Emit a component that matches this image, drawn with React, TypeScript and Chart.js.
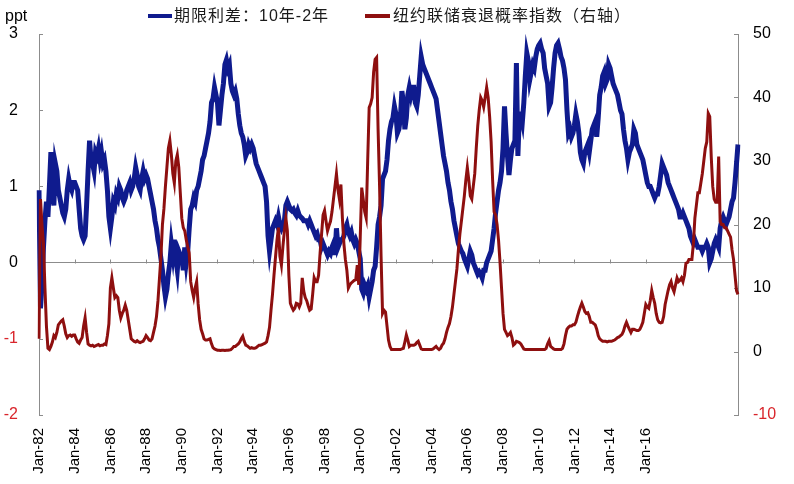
import { useEffect, useRef } from 'react';
import { Chart, registerables } from 'chart.js';

Chart.register(...registerables);

// ---------- data ----------
const START_YEAR = 1982;
const MONTH_NAMES = ['Jan', 'Feb', 'Mar', 'Apr', 'May', 'Jun', 'Jul', 'Aug', 'Sep', 'Oct', 'Nov', 'Dec'];

// 10Y-2Y term spread (ppt), monthly, one row per year 1982..2021
const SPREAD_BY_YEAR: number[][] = [
  [0.95, -0.6, -0.3, 0.2, 0.55, 0.8, 0.6, 1.0, 1.45, 0.9, 0.75, 1.3],
  [1.2, 0.95, 0.85, 0.75, 0.65, 0.6, 0.7, 0.95, 1.1, 1.0, 0.95, 1.05],
  [1.05, 1.0, 0.95, 0.7, 0.45, 0.35, 0.3, 0.35, 0.75, 1.2, 1.6, 1.35],
  [1.3, 1.2, 1.45, 1.4, 1.5, 1.35, 1.45, 1.3, 1.35, 1.2, 0.95, 0.6],
  [0.45, 0.6, 0.8, 0.75, 0.9, 0.85, 1.0, 0.95, 0.85, 0.8, 0.85, 0.95],
  [1.0, 1.05, 0.95, 1.0, 1.1, 1.25, 1.15, 1.0, 0.95, 1.1, 1.2, 1.1],
  [1.15, 1.1, 1.0, 0.9, 0.8, 0.7, 0.55, 0.45, 0.3, 0.2, 0.05, -0.1],
  [-0.3, -0.45, -0.35, -0.15, 0.0, 0.25, 0.1, 0.3, 0.05, -0.1, 0.15, 0.1],
  [0.1, -0.1, 0.2, 0.0, 0.15, 0.45, 0.7, 0.75, 0.85, 0.8, 0.95, 1.0],
  [1.1, 1.2, 1.35, 1.4, 1.5, 1.6, 1.7, 1.85, 2.1, 2.15, 2.3, 2.2],
  [2.1, 1.8, 2.0, 2.2, 2.35, 2.6, 2.66, 2.55, 2.6, 2.35, 2.25, 2.2],
  [2.25, 2.15, 1.95, 1.8, 1.7, 1.65, 1.55, 1.4, 1.45, 1.55, 1.5, 1.55],
  [1.5, 1.4, 1.3, 1.25, 1.2, 1.15, 1.1, 1.05, 1.0, 0.8, 0.35, 0.15],
  [0.3, 0.45, 0.5, 0.55, 0.5, 0.6, 0.5, 0.45, 0.5, 0.55, 0.75, 0.8],
  [0.75, 0.7, 0.68, 0.7, 0.65, 0.62, 0.68, 0.62, 0.6, 0.58, 0.55, 0.55],
  [0.55, 0.5, 0.55, 0.5, 0.45, 0.4, 0.35, 0.38, 0.3, 0.3, 0.2, 0.25],
  [0.2, 0.15, 0.1, 0.15, 0.12, 0.2, 0.25, 0.1, 0.45, 0.2, 0.25, 0.3],
  [0.3, 0.35, 0.45, 0.5, 0.4, 0.35, 0.4, 0.3, 0.25, 0.3, 0.25, 0.15],
  [0.05, -0.35, -0.4, -0.3, -0.35, -0.3, -0.45, -0.35, -0.25, -0.1, -0.05, 0.2],
  [0.5, 0.6, 0.75, 1.1, 1.15, 1.2, 1.35, 1.6, 1.75, 1.85, 1.9, 2.05],
  [1.95, 1.7, 1.75, 1.9, 2.25, 2.1, 1.75, 1.9, 2.2, 2.3, 2.2, 2.3],
  [2.3, 2.1, 2.05, 2.2, 2.45, 2.7, 2.6, 2.55, 2.5, 2.45, 2.4, 2.35],
  [2.3, 2.25, 2.2, 2.15, 2.0, 1.85, 1.7, 1.55, 1.4, 1.3, 1.2, 1.05],
  [0.95, 0.8, 0.7, 0.55, 0.45, 0.35, 0.25, 0.2, 0.15, 0.12, 0.05, 0.0],
  [-0.05, 0.05, 0.15, 0.1, 0.0, -0.05, -0.1, -0.15, -0.12, -0.15, -0.2, -0.1],
  [-0.1, 0.0, 0.05, 0.1, 0.15, 0.3, 0.45, 0.65, 0.8, 0.95, 1.05, 1.2],
  [1.5, 2.05, 1.7, 1.4, 1.15, 1.35, 1.5, 1.55, 1.6, 2.62, 1.4, 1.95],
  [1.95, 1.85, 2.1, 2.45, 2.75, 2.65, 2.4, 2.5, 2.6, 2.55, 2.7, 2.8],
  [2.85, 2.88, 2.8, 2.75, 2.55, 2.45, 2.35, 2.05, 2.1, 2.3, 2.55, 2.75],
  [2.85, 2.88, 2.8, 2.7, 2.65, 2.55, 2.4, 2.0, 1.7, 1.75, 1.65, 1.7],
  [1.8, 1.95, 1.85, 1.7, 1.45, 1.35, 1.3, 1.45, 1.5, 1.55, 1.45, 1.6],
  [1.75, 1.8, 1.85, 1.65, 1.9, 2.2, 2.3, 2.45, 2.5, 2.35, 2.4, 2.6],
  [2.55, 2.45, 2.35, 2.3, 2.25, 2.2, 2.1, 2.0, 1.95, 1.75, 1.6, 1.5],
  [1.35, 1.45, 1.5, 1.55, 1.75, 1.7, 1.55, 1.5, 1.45, 1.4, 1.35, 1.25],
  [1.15, 1.05, 1.0, 1.0, 0.95, 0.9, 0.85, 0.9, 0.9, 1.0, 1.15, 1.3],
  [1.25, 1.2, 1.15, 1.05, 1.0, 0.95, 0.9, 0.85, 0.8, 0.75, 0.7, 0.6],
  [0.6, 0.65, 0.6, 0.55, 0.5, 0.45, 0.35, 0.3, 0.25, 0.3, 0.25, 0.2],
  [0.2, 0.2, 0.15, 0.2, 0.2, 0.25, 0.2, 0.0, 0.05, 0.15, 0.25, 0.3],
  [0.25, 0.2, 0.45, 0.55, 0.6, 0.55, 0.5, 0.55, 0.6, 0.7, 0.8, 0.85],
  [1.05, 1.3, 1.55],
];

// NY Fed recession probability (%), monthly, one row per year 1982..2021
const RECESSION_PROB_BY_YEAR: number[][] = [
  [2, 24, 20, 17, 10, 4, 0.5, 0.3, 0.8, 1.5, 2.5, 2.2],
  [3.0, 4.2, 4.5, 4.8, 5.0, 4.0, 2.8, 2.2, 2.5, 2.6, 2.4, 2.6],
  [2.6, 2.0, 1.5, 1.3, 1.8, 2.2, 4.0, 5.3, 3.0, 1.2, 1.0, 0.9],
  [1.0, 0.8, 0.9, 1.0, 1.1, 0.9, 1.0, 1.0, 1.2, 1.1, 2.5, 4.4],
  [10.0, 11.6, 10.0, 8.5, 8.8, 8.5, 6.5, 5.3, 6.0, 6.5, 7.3, 6.5],
  [5.0, 3.5, 2.0, 1.8, 1.6, 1.5, 1.7, 1.5, 1.4, 1.5, 1.6, 2.0],
  [2.5, 2.2, 1.8, 1.7, 2.0, 3.0, 4.0, 5.5, 8.0, 11.5, 15.0, 20.0],
  [22.5, 26, 29, 32, 33.2, 31, 28, 26.5, 30, 31, 29, 25],
  [21, 19.5, 19, 17.6, 16.5, 15.5, 11, 9.6, 8.5, 10, 11, 7.5],
  [5.0, 3.5, 2.8, 2.0, 1.8, 1.8, 1.9, 2.0, 1.2, 0.6, 0.4, 0.3],
  [0.2, 0.2, 0.15, 0.2, 0.2, 0.15, 0.2, 0.2, 0.25, 0.3, 0.5, 0.8],
  [0.8, 1.0, 1.2, 1.5, 2.0, 2.4, 1.6, 1.0, 0.9, 0.7, 0.5, 0.6],
  [0.5, 0.5, 0.6, 0.8, 1.0, 1.0, 1.1, 1.2, 1.3, 1.5, 2.5, 3.8],
  [6.5, 9.0, 12.0, 14.8, 17.5, 19.5, 15.0, 13.6, 16.5, 19.0, 21.0, 19.0],
  [12.0, 7.6, 7.0, 6.5, 6.8, 7.6, 7.5, 7.0, 7.6, 11.6, 9.5, 8.5],
  [8.0, 7.2, 6.5, 6.7, 9.0, 11.6, 11.0, 11.0, 12.0, 15.5, 18.5, 21.5],
  [22.2, 20.5, 19.0, 19.8, 20.5, 22.0, 24.0, 26.0, 28.0, 25.5, 24.0, 26.3],
  [21.0, 17.0, 14.5, 12.8, 10.0, 10.5, 10.8, 11.0, 11.2, 11.3, 13.6, 10.5],
  [18.0, 25.8, 24.0, 22.0, 21.0, 30.0, 38.4, 39.0, 40.0, 44.0, 46.0, 46.3],
  [35, 26, 15, 6, 6.5, 6.2, 4, 1.8, 0.8, 0.3, 0.3, 0.3],
  [0.3, 0.3, 0.3, 0.3, 0.4, 0.5, 1.5, 2.6, 1.8, 0.8, 1.0, 1.0],
  [1.0, 1.1, 1.4, 1.6, 1.0, 0.4, 0.3, 0.3, 0.3, 0.3, 0.3, 0.3],
  [0.3, 0.4, 0.6, 0.8, 0.5, 0.3, 0.5, 1.0, 1.3, 2.0, 3.0, 3.8],
  [4.4, 5.5, 7.0, 9.0, 11.0, 13.0, 16.0, 18.5, 20.5, 22.5, 24.5, 27.0],
  [29.0, 27.0, 24.5, 24.0, 26.0, 28.0, 32.0, 35.5, 38.0, 40.0, 39.5, 38.5],
  [40.0, 41.6, 40.0, 37.0, 33.0, 27.0, 22.0, 21.5, 20.0, 17.5, 14.0, 10.0],
  [6.0, 3.5, 3.0, 2.5, 2.7, 3.0, 2.2, 1.0, 1.2, 1.6, 1.5, 1.4],
  [1.2, 0.8, 0.4, 0.3, 0.3, 0.3, 0.3, 0.3, 0.3, 0.3, 0.3, 0.3],
  [0.3, 0.3, 0.3, 0.3, 0.3, 0.5, 1.2, 1.7, 0.8, 0.6, 0.4, 0.3],
  [0.3, 0.3, 0.3, 0.3, 0.5, 1.2, 2.5, 3.5, 3.8, 4.0, 4.0, 4.2],
  [4.2, 4.6, 5.5, 6.3, 7.0, 7.6, 7.0, 6.3, 6.0, 6.1, 5.5, 4.6],
  [4.6, 4.4, 4.2, 3.5, 2.5, 2.0, 1.8, 1.6, 1.6, 1.6, 1.5, 1.6],
  [1.6, 1.6, 1.7, 1.8, 2.0, 2.2, 2.3, 2.5, 2.7, 3.2, 4.0, 4.6],
  [4.0, 3.5, 3.0, 3.5, 3.5, 3.4, 3.3, 3.3, 3.5, 4.0, 4.6, 6.0],
  [7.4, 7.0, 6.8, 8.0, 9.6, 8.5, 7.6, 6.0, 5.0, 4.6, 4.5, 4.6],
  [5.5, 7.4, 8.5, 9.6, 10.5, 11.0, 10.0, 9.4, 10.5, 11.6, 11.0, 11.2],
  [11.6, 11.0, 12.0, 13.9, 14.0, 14.5, 14.5, 14.5, 17.0, 21.0, 23.0, 25.0],
  [25.0, 26.5, 28.0, 30.0, 32.0, 33.0, 37.5, 37.0, 30.7, 26.0, 24.0, 23.5],
  [23.5, 30.7, 20.5, 20.0, 20.0, 19.5, 19.5, 19.0, 18.5, 18.0, 16.0, 14.5],
  [12.0, 9.6, 9.0],
];

const X_TICK_LABELS = [
  'Jan-82', 'Jan-84', 'Jan-86', 'Jan-88', 'Jan-90', 'Jan-92', 'Jan-94', 'Jan-96', 'Jan-98',
  'Jan-00', 'Jan-02', 'Jan-04', 'Jan-06', 'Jan-08', 'Jan-10', 'Jan-12', 'Jan-14', 'Jan-16',
];

const SERIES_NAMES = ['期限利差：10年-2年', '纽约联储衰退概率指数（右轴）'];
const LEFT_AXIS = { min: -2, max: 3, step: 1, unit: 'ppt' };
const RIGHT_AXIS = { min: -10, max: 50, step: 10 };

// ---------- styles ----------
const BLUE = '#0f1b8e';
const RED = '#8e0f0f';
const AXIS_GREY = '#8c8c8c';
const NEG_RED = '#d9252b';
const FONT_FAMILY = '"Liberation Sans", Arial, "Noto Sans CJK SC", sans-serif';

const spread = SPREAD_BY_YEAR.flat();
const recessionProb = RECESSION_PROB_BY_YEAR.flat();
const monthLabels: string[] = spread.map((_, i) => {
  const y = START_YEAR + Math.floor(i / 12);
  return `${MONTH_NAMES[i % 12]}-${String(y % 100).padStart(2, '0')}`;
});

const decorPlugin = {
  id: 'decor',
  beforeDatasetsDraw(chart: any) {
    const ctx = chart.ctx;
    const { left, right } = chart.chartArea;
    const y = chart.scales.y;
    const y1 = chart.scales.y1;
    const x = chart.scales.x;
    ctx.save();
    ctx.strokeStyle = AXIS_GREY;
    ctx.lineWidth = 1;
    y.ticks.forEach((t: any) => {
      const py = Math.round(y.getPixelForValue(t.value)) + 0.5;
      ctx.beginPath();
      ctx.moveTo(left, py);
      ctx.lineTo(left + 4, py);
      ctx.stroke();
    });
    y1.ticks.forEach((t: any) => {
      const py = Math.round(y1.getPixelForValue(t.value)) + 0.5;
      ctx.beginPath();
      ctx.moveTo(right - 4, py);
      ctx.lineTo(right, py);
      ctx.stroke();
    });
    const zeroY = Math.round(y.getPixelForValue(0)) + 0.5;
    x.ticks.forEach((t: any, i: number) => {
      if (!t.label) return;
      const px = Math.round(x.getPixelForTick(i)) + 0.5;
      ctx.beginPath();
      ctx.moveTo(px, zeroY);
      ctx.lineTo(px, zeroY - 4);
      ctx.stroke();
    });
    ctx.restore();
  },
  afterDraw(chart: any) {
    const ctx = chart.ctx;
    ctx.save();
    // unit label
    ctx.fillStyle = '#000';
    ctx.font = `16px ${FONT_FAMILY}`;
    ctx.textAlign = 'left';
    ctx.textBaseline = 'alphabetic';
    ctx.fillText(LEFT_AXIS.unit, 5, 21);
    // legend
    const items = [
      { x0: 148, x1: 172, tx: 174 },
      { x0: 365, x1: 390, tx: 393 },
    ];
    ctx.font = `16px ${FONT_FAMILY}`;
    try {
      (ctx as any).letterSpacing = '1px';
    } catch (e) {
      /* ignore */
    }
    ctx.textBaseline = 'middle';
    chart.data.datasets.forEach((ds: any, i: number) => {
      const it = items[i];
      ctx.strokeStyle = ds.borderColor;
      ctx.lineWidth = 4;
      ctx.beginPath();
      ctx.moveTo(it.x0, 16);
      ctx.lineTo(it.x1, 16);
      ctx.stroke();
      ctx.fillStyle = '#1a1a1a';
      ctx.fillText(ds.label, it.tx, 17);
    });
    ctx.restore();
  },
};

export default function App() {
  const canvasRef = useRef<HTMLCanvasElement | null>(null);

  useEffect(() => {
    document.body.style.margin = '0';
    const canvas = canvasRef.current;
    if (!canvas) return;
    const tickFont = { family: FONT_FAMILY, size: 16 };
    const chart = new Chart(canvas, {
      type: 'line',
      data: {
        labels: monthLabels,
        datasets: [
          {
            label: SERIES_NAMES[0],
            data: spread,
            borderColor: BLUE,
            backgroundColor: BLUE,
            borderWidth: 5,
            pointRadius: 0,
            tension: 0,
            yAxisID: 'y',
            order: 2,
          },
          {
            label: SERIES_NAMES[1],
            data: recessionProb,
            borderColor: RED,
            backgroundColor: RED,
            borderWidth: 3,
            pointRadius: 0,
            tension: 0,
            yAxisID: 'y1',
            order: 1,
          },
        ],
      },
      options: {
        responsive: false,
        animation: false,
        events: [],
        layout: { padding: { top: 34, left: 0, right: 0, bottom: 0 } },
        plugins: {
          legend: { display: false },
          tooltip: { enabled: false },
        },
        scales: {
          x: {
            type: 'category',
            offset: false,
            grid: { display: false, drawTicks: false },
            border: { display: false },
            ticks: {
              autoSkip: false,
              minRotation: 90,
              maxRotation: 90,
              padding: 13,
              color: '#000',
              font: { family: FONT_FAMILY, size: 15 },
              callback: (_v: any, i: number) =>
                X_TICK_LABELS.includes(monthLabels[i]) ? monthLabels[i] : null,
            },
            afterFit: (s: any) => {
              s.height = 69;
            },
          },
          y: {
            position: 'left',
            min: LEFT_AXIS.min,
            max: LEFT_AXIS.max,
            grid: {
              drawTicks: false,
              color: (c: any) => (c.tick && c.tick.value === 0 ? AXIS_GREY : 'rgba(0,0,0,0)'),
              lineWidth: 1,
            },
            border: { display: true, color: AXIS_GREY, width: 1 },
            ticks: {
              stepSize: LEFT_AXIS.step,
              padding: 21,
              font: tickFont,
              color: (c: any) => (c.tick.value < 0 ? NEG_RED : '#000'),
            },
            afterFit: (s: any) => {
              s.width = 39;
            },
          },
          y1: {
            position: 'right',
            min: RIGHT_AXIS.min,
            max: RIGHT_AXIS.max,
            grid: { display: false, drawTicks: false },
            border: { display: true, color: AXIS_GREY, width: 1 },
            ticks: {
              stepSize: RIGHT_AXIS.step,
              padding: 15,
              font: tickFont,
              color: (c: any) => (c.tick.value < 0 ? NEG_RED : '#000'),
            },
            afterFit: (s: any) => {
              s.width = 56;
            },
          },
        },
      },
      plugins: [decorPlugin],
    });
    return () => chart.destroy();
  }, []);

  return (
    <div style={{ position: 'fixed', left: 0, top: 0, width: 794, height: 484, background: '#fff' }}>
      <canvas ref={canvasRef} width={794} height={484} style={{ display: 'block', width: 794, height: 484 }} />
    </div>
  );
}
